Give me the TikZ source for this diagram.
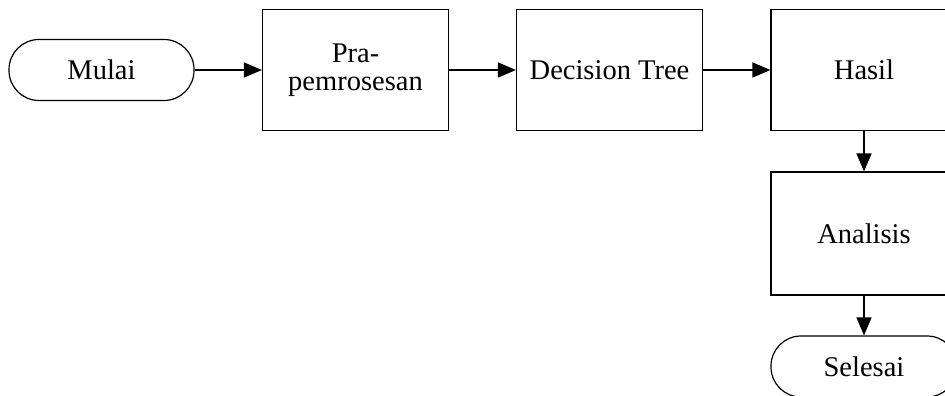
\documentclass[tikz,border=0pt]{standalone}
\usepackage{fontspec}
\setmainfont{Liberation Serif}
\usetikzlibrary{arrows.meta}
\begin{document}
\begin{tikzpicture}[x=1pt,y=-1pt,
  box/.style={draw,line width=1.2pt,minimum width=186pt,minimum height=121pt,inner sep=0pt,align=center,font=\fontsize{28.5}{28}\selectfont},
  term/.style={draw,line width=1.2pt,minimum width=185pt,minimum height=61pt,rounded corners=30pt,inner sep=0pt,font=\fontsize{28.5}{28}\selectfont},
  arr/.style={line width=1.6pt,-{Triangle[length=18pt,width=15pt]}}]
\useasboundingbox (0,0) rectangle (945,396);
\node[term] (mulai) at (101.5,70) {Mulai};
\node[box] (pra) at (355.5,70) {Pra-\\pemrosesan};
\node[box] (dt) at (609.5,70) {Decision Tree};
\node[box] (hasil) at (864,70) {Hasil};
\node[box,minimum height=123pt] (analisis) at (864,233.5) {Analisis};
\node[term,minimum width=186pt] (selesai) at (864,366.5) {Selesai};
\draw[arr] (mulai) -- (pra);
\draw[arr] (pra) -- (dt);
\draw[arr] (dt) -- (hasil);
\draw[arr] (hasil) -- (analisis);
\draw[arr] (analisis) -- (selesai);
\end{tikzpicture}
\end{document}
